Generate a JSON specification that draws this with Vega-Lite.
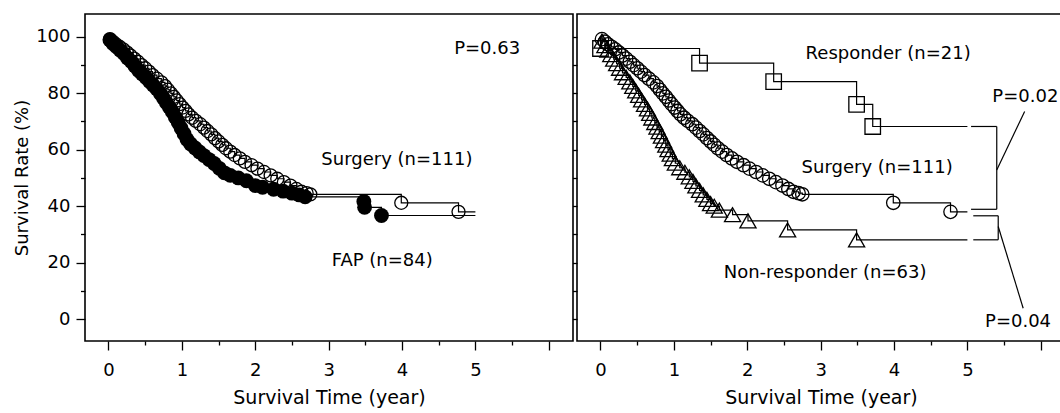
{
  "$schema": "https://vega.github.io/schema/vega-lite/v6.json",
  "background": "white",
  "padding": {"left": 12, "top": 13, "right": 0, "bottom": 0},
  "spacing": -3,
  "config": {
    "view": {"stroke": "black", "strokeWidth": 1.6},
    "font": "DejaVu Sans",
    "axis": {"domain": false, "grid": false, "tickColor": "black", "tickWidth": 1.3, "labelColor": "black", "titleColor": "black", "labelFont": "DejaVu Sans", "titleFont": "DejaVu Sans", "labelFontSize": 18, "titleFontSize": 18, "titleFontWeight": "normal", "labelFlush": false, "labelOverlap": false},
    "axisX": {"titleFontSize": 19},
    "text": {"font": "DejaVu Sans", "fontSize": 18, "color": "black"}
  },
  "datasets": {
    "surgery": [
      {"t": 0, "v": 100, "m": 0},
      {"t": 0.02, "v": 99.1, "m": 1}, {"t": 0.06, "v": 98.2, "m": 1}, {"t": 0.10, "v": 97.3, "m": 1}, {"t": 0.15, "v": 96.4, "m": 1},
      {"t": 0.20, "v": 95.5, "m": 1}, {"t": 0.25, "v": 94.4, "m": 1}, {"t": 0.30, "v": 93.3, "m": 1}, {"t": 0.35, "v": 92.2, "m": 1},
      {"t": 0.40, "v": 91.1, "m": 1}, {"t": 0.45, "v": 89.9, "m": 1}, {"t": 0.50, "v": 88.8, "m": 1}, {"t": 0.55, "v": 87.6, "m": 1},
      {"t": 0.60, "v": 86.4, "m": 1}, {"t": 0.66, "v": 85.1, "m": 1}, {"t": 0.72, "v": 83.8, "m": 1}, {"t": 0.77, "v": 82.5, "m": 1},
      {"t": 0.81, "v": 81.2, "m": 1}, {"t": 0.85, "v": 79.9, "m": 1}, {"t": 0.89, "v": 78.7, "m": 1}, {"t": 0.93, "v": 77.4, "m": 1},
      {"t": 0.97, "v": 76.1, "m": 1}, {"t": 1.01, "v": 74.9, "m": 1}, {"t": 1.05, "v": 73.7, "m": 1}, {"t": 1.09, "v": 72.5, "m": 1},
      {"t": 1.14, "v": 71.3, "m": 1}, {"t": 1.19, "v": 70.2, "m": 1}, {"t": 1.25, "v": 69.0, "m": 1}, {"t": 1.30, "v": 67.8, "m": 1},
      {"t": 1.35, "v": 66.6, "m": 1}, {"t": 1.40, "v": 65.4, "m": 1}, {"t": 1.45, "v": 64.1, "m": 1}, {"t": 1.50, "v": 62.9, "m": 1},
      {"t": 1.55, "v": 61.7, "m": 1}, {"t": 1.60, "v": 60.5, "m": 1}, {"t": 1.66, "v": 59.3, "m": 1}, {"t": 1.72, "v": 58.1, "m": 1},
      {"t": 1.79, "v": 56.9, "m": 1}, {"t": 1.86, "v": 55.7, "m": 1}, {"t": 1.95, "v": 54.5, "m": 1}, {"t": 2.03, "v": 53.3, "m": 1},
      {"t": 2.12, "v": 52.1, "m": 1}, {"t": 2.21, "v": 50.9, "m": 1}, {"t": 2.30, "v": 49.7, "m": 1}, {"t": 2.39, "v": 48.5, "m": 1},
      {"t": 2.48, "v": 47.3, "m": 1}, {"t": 2.56, "v": 46.1, "m": 1}, {"t": 2.63, "v": 45.1, "m": 1}, {"t": 2.70, "v": 44.6, "m": 1},
      {"t": 2.75, "v": 44.2, "m": 1}, {"t": 3.99, "v": 41.2, "m": 1}, {"t": 4.77, "v": 38.0, "m": 1},
      {"t": 5.0, "v": 38.0, "m": 0}
    ],
    "fap": [
      {"t": 0, "v": 100, "m": 0},
      {"t": 0.02, "v": 98.8, "m": 1}, {"t": 0.06, "v": 97.6, "m": 1}, {"t": 0.11, "v": 96.4, "m": 1}, {"t": 0.16, "v": 95.2, "m": 1},
      {"t": 0.21, "v": 94.0, "m": 1}, {"t": 0.26, "v": 92.4, "m": 1}, {"t": 0.31, "v": 91.2, "m": 1}, {"t": 0.36, "v": 89.6, "m": 1},
      {"t": 0.41, "v": 88.0, "m": 1}, {"t": 0.46, "v": 86.8, "m": 1}, {"t": 0.51, "v": 85.5, "m": 1}, {"t": 0.56, "v": 84.1, "m": 1},
      {"t": 0.61, "v": 82.8, "m": 1}, {"t": 0.66, "v": 81.5, "m": 1}, {"t": 0.71, "v": 79.8, "m": 1}, {"t": 0.75, "v": 78.2, "m": 1},
      {"t": 0.79, "v": 76.6, "m": 1}, {"t": 0.83, "v": 75.0, "m": 1}, {"t": 0.87, "v": 73.4, "m": 1}, {"t": 0.91, "v": 71.5, "m": 1},
      {"t": 0.95, "v": 69.6, "m": 1}, {"t": 0.99, "v": 67.6, "m": 1}, {"t": 1.03, "v": 65.6, "m": 1}, {"t": 1.07, "v": 63.6, "m": 1},
      {"t": 1.12, "v": 62.0, "m": 1}, {"t": 1.18, "v": 60.6, "m": 1}, {"t": 1.24, "v": 59.2, "m": 1}, {"t": 1.30, "v": 57.9, "m": 1},
      {"t": 1.37, "v": 56.5, "m": 1}, {"t": 1.44, "v": 55.1, "m": 1}, {"t": 1.51, "v": 53.4, "m": 1}, {"t": 1.58, "v": 51.8, "m": 1},
      {"t": 1.66, "v": 50.9, "m": 1}, {"t": 1.77, "v": 50.0, "m": 1}, {"t": 1.88, "v": 49.0, "m": 1}, {"t": 2.00, "v": 47.3, "m": 1},
      {"t": 2.10, "v": 46.7, "m": 1}, {"t": 2.25, "v": 46.0, "m": 1}, {"t": 2.38, "v": 45.3, "m": 1}, {"t": 2.50, "v": 44.6, "m": 1},
      {"t": 2.60, "v": 44.0, "m": 1}, {"t": 2.68, "v": 43.3, "m": 1}, {"t": 3.48, "v": 41.7, "m": 1}, {"t": 3.49, "v": 39.6, "m": 1},
      {"t": 3.72, "v": 36.7, "m": 1},
      {"t": 5.0, "v": 36.7, "m": 0}
    ],
    "responder": [
      {"t": 0, "v": 100, "m": 0},
      {"t": 0.0, "v": 95.8, "m": 1}, {"t": 1.35, "v": 90.6, "m": 1}, {"t": 2.36, "v": 84.1, "m": 1},
      {"t": 3.49, "v": 76.0, "m": 1}, {"t": 3.71, "v": 68.2, "m": 1},
      {"t": 5.0, "v": 68.2, "m": 0}
    ],
    "nonresponder": [
      {"t": 0, "v": 100, "m": 0},
      {"t": 0.02, "v": 98.4, "m": 1}, {"t": 0.06, "v": 96.8, "m": 1}, {"t": 0.10, "v": 95.2, "m": 1}, {"t": 0.14, "v": 93.6, "m": 1},
      {"t": 0.18, "v": 92.0, "m": 1}, {"t": 0.22, "v": 90.4, "m": 1}, {"t": 0.26, "v": 88.8, "m": 1}, {"t": 0.30, "v": 87.2, "m": 1},
      {"t": 0.35, "v": 85.6, "m": 1}, {"t": 0.40, "v": 84.0, "m": 1}, {"t": 0.44, "v": 82.4, "m": 1}, {"t": 0.48, "v": 80.8, "m": 1},
      {"t": 0.52, "v": 79.2, "m": 1}, {"t": 0.56, "v": 77.6, "m": 1}, {"t": 0.60, "v": 76.0, "m": 1}, {"t": 0.64, "v": 74.4, "m": 1},
      {"t": 0.67, "v": 72.8, "m": 1}, {"t": 0.70, "v": 71.2, "m": 1}, {"t": 0.74, "v": 69.6, "m": 1}, {"t": 0.77, "v": 68.0, "m": 1},
      {"t": 0.80, "v": 66.4, "m": 1}, {"t": 0.83, "v": 64.8, "m": 1}, {"t": 0.86, "v": 63.2, "m": 1}, {"t": 0.89, "v": 61.6, "m": 1},
      {"t": 0.92, "v": 60.0, "m": 1}, {"t": 0.95, "v": 58.4, "m": 1}, {"t": 0.98, "v": 56.8, "m": 1}, {"t": 1.02, "v": 55.2, "m": 1},
      {"t": 1.08, "v": 53.6, "m": 1}, {"t": 1.15, "v": 52.0, "m": 1}, {"t": 1.21, "v": 50.4, "m": 1}, {"t": 1.26, "v": 48.8, "m": 1},
      {"t": 1.30, "v": 47.2, "m": 1}, {"t": 1.35, "v": 45.6, "m": 1}, {"t": 1.40, "v": 44.0, "m": 1}, {"t": 1.45, "v": 42.4, "m": 1},
      {"t": 1.50, "v": 40.9, "m": 1}, {"t": 1.55, "v": 40.0, "m": 1}, {"t": 1.62, "v": 38.6, "m": 1}, {"t": 1.80, "v": 37.0, "m": 1},
      {"t": 2.01, "v": 34.8, "m": 1}, {"t": 2.55, "v": 31.6, "m": 1}, {"t": 3.49, "v": 28.1, "m": 1},
      {"t": 5.0, "v": 28.1, "m": 0}
    ],
    "brackets": [
      {"t": 5.05, "v": 68.2, "t2": 5.40, "v2": 68.2},
      {"t": 5.40, "v": 68.2, "t2": 5.40, "v2": 38.9},
      {"t": 5.05, "v": 38.9, "t2": 5.40, "v2": 38.9},
      {"t": 5.40, "v": 52.8, "t2": 5.78, "v2": 73.5},
      {"t": 5.08, "v": 36.6, "t2": 5.42, "v2": 36.6},
      {"t": 5.42, "v": 36.6, "t2": 5.42, "v2": 28.1},
      {"t": 5.08, "v": 28.1, "t2": 5.42, "v2": 28.1},
      {"t": 5.42, "v": 32.8, "t2": 5.76, "v2": 3.9}
    ],
    "textL": [
      {"t": 5.16, "v": 95.6, "label": "P=0.63"},
      {"t": 3.93, "v": 56.4, "label": "Surgery (n=111)"},
      {"t": 3.73, "v": 20.6, "label": "FAP (n=84)"}
    ],
    "textR": [
      {"t": 3.92, "v": 93.8, "label": "Responder (n=21)"},
      {"t": 3.77, "v": 53.5, "label": "Surgery (n=111)"},
      {"t": 3.06, "v": 16.4, "label": "Non-responder (n=63)"},
      {"t": 5.79, "v": 78.8, "label": "P=0.02"},
      {"t": 5.69, "v": -1.1, "label": "P=0.04"}
    ]
  },
  "hconcat": [
    {
      "width": 488,
      "height": 327,
      "encoding": {
        "x": {"field": "t", "type": "quantitative",
          "scale": {"domain": [-0.32, 6.33], "nice": false, "zero": false},
          "axis": {"values": [0, 0.5, 1, 1.5, 2, 2.5, 3, 3.5, 4, 4.5, 5, 5.5, 6], "format": "~g",
            "labelExpr": "datum.value % 1 === 0 && datum.value <= 5 ? datum.label : ''",
            "tickSize": {"condition": {"test": "datum.value % 1 === 0", "value": 9}, "value": 4},
            "labelPadding": 11, "title": "Survival Time (year)", "titlePadding": 9}},
        "y": {"field": "v", "type": "quantitative",
          "scale": {"domain": [-7.7, 108], "nice": false, "zero": false},
          "axis": {"values": [0, 10, 20, 30, 40, 50, 60, 70, 80, 90, 100],
            "labelExpr": "datum.value % 20 === 0 ? datum.label : ''",
            "tickSize": {"condition": {"test": "datum.value % 20 === 0", "value": 9}, "value": 4.5},
            "labelPadding": 6, "title": "Survival Rate (%)", "titlePadding": 4}}
      },
      "layer": [
        {"data": {"name": "surgery"}, "mark": {"type": "line", "interpolate": "step-after", "color": "black", "strokeWidth": 1.2}},
        {"data": {"name": "fap"}, "mark": {"type": "line", "interpolate": "step-after", "color": "black", "strokeWidth": 1.2}},
        {"data": {"name": "surgery"}, "transform": [{"filter": "datum.m == 1"}],
          "mark": {"type": "point", "shape": "circle", "filled": false, "color": "black", "size": 170, "strokeWidth": 1.3, "opacity": 1}},
        {"data": {"name": "fap"}, "transform": [{"filter": "datum.m == 1"}],
          "mark": {"type": "point", "shape": "circle", "filled": true, "color": "black", "size": 220, "opacity": 1}},
        {"data": {"name": "textL"}, "mark": {"type": "text", "align": "center", "baseline": "middle"},
          "encoding": {"text": {"field": "label"}}}
      ]
    },
    {
      "width": 488,
      "height": 327,
      "encoding": {
        "x": {"field": "t", "type": "quantitative",
          "scale": {"domain": [-0.32, 6.33], "nice": false, "zero": false},
          "axis": {"values": [0, 0.5, 1, 1.5, 2, 2.5, 3, 3.5, 4, 4.5, 5, 5.5, 6], "format": "~g",
            "labelExpr": "datum.value % 1 === 0 && datum.value <= 5 ? datum.label : ''",
            "tickSize": {"condition": {"test": "datum.value % 1 === 0", "value": 9}, "value": 4},
            "labelPadding": 11, "title": "Survival Time (year)", "titlePadding": 9}},
        "y": {"field": "v", "type": "quantitative",
          "scale": {"domain": [-7.7, 108], "nice": false, "zero": false},
          "axis": {"values": [0, 10, 20, 30, 40, 50, 60, 70, 80, 90, 100],
            "labels": false, "title": null, "tickSize": 4.5, "minExtent": 0}}
      },
      "layer": [
        {"data": {"name": "surgery"}, "mark": {"type": "line", "interpolate": "step-after", "color": "black", "strokeWidth": 1.2}},
        {"data": {"name": "responder"}, "mark": {"type": "line", "interpolate": "step-after", "color": "black", "strokeWidth": 1.2}},
        {"data": {"name": "nonresponder"}, "mark": {"type": "line", "interpolate": "step-after", "color": "black", "strokeWidth": 1.2}},
        {"data": {"name": "brackets"}, "mark": {"type": "rule", "color": "black", "strokeWidth": 1.2},
          "encoding": {"x2": {"field": "t2"}, "y2": {"field": "v2"}}},
        {"data": {"name": "surgery"}, "transform": [{"filter": "datum.m == 1"}],
          "mark": {"type": "point", "shape": "circle", "filled": false, "color": "black", "size": 180, "strokeWidth": 1.3, "opacity": 1}},
        {"data": {"name": "nonresponder"}, "transform": [{"filter": "datum.m == 1"}],
          "mark": {"type": "point", "shape": "triangle-up", "filled": false, "color": "black", "size": 260, "strokeWidth": 1.3, "opacity": 1}},
        {"data": {"name": "responder"}, "transform": [{"filter": "datum.m == 1"}],
          "mark": {"type": "point", "shape": "square", "filled": false, "color": "black", "size": 240, "strokeWidth": 1.3, "opacity": 1}},
        {"data": {"name": "textR"}, "mark": {"type": "text", "align": "center", "baseline": "middle"},
          "encoding": {"text": {"field": "label"}}}
      ]
    }
  ]
}
